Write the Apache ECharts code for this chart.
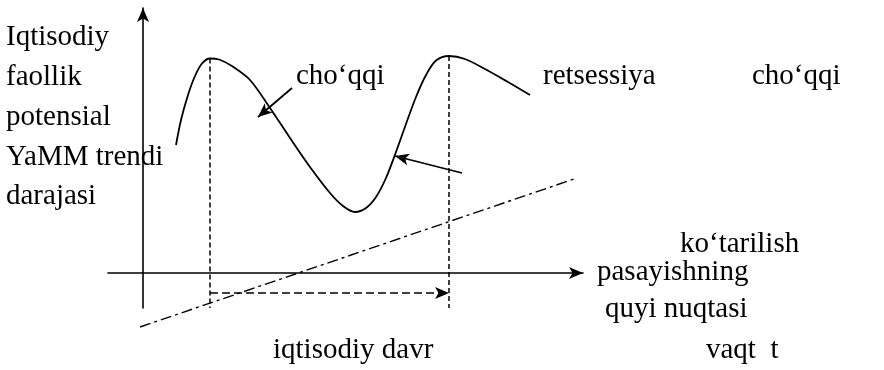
<!DOCTYPE html>
<html>
<head>
<meta charset="utf-8">
<script src="https://cdn.jsdelivr.net/npm/echarts@6/dist/echarts.min.js"></script>
<style>
  html, body { margin: 0; padding: 0; background: #fff; }
  #chart { width: 884px; height: 370px; }
</style>
</head>
<body>
<div id="chart"></div>
<script>
  // iqtisodiy faollik egri chizig'i (vaqt, daraja)
  var cycleT = [6.6, 7.6, 9, 10.4, 11.8, 13.4, 15.2, 17.6, 21.4, 25.4, 29.4, 33.4, 37.4, 40, 42.4, 44.6, 46.6, 48.6, 50.6, 52.6, 54.6, 56.6, 58.6, 61.2, 64.4, 68.4, 73, 77.4];
  var cycleY = [25.6, 30.6, 35.6, 39.4, 41.9, 42.9, 42.7, 41.5, 38.6, 33, 27, 21.2, 16, 13.4, 12.2, 13, 15.2, 19, 24.2, 29.8, 35.2, 39.6, 42.5, 43.4, 42.8, 40.8, 38.2, 35.6];
  // potensial YaMM trendi
  var trendT = [-0.6, 86.8];
  var trendY = [-10.8, 19];
  // cho'qqilar
  var peakT = [13.4, 61.2];
  var peakY = [42.9, 43.4];
  var dropY = -7;      // vertikal shtrix chiziqlar pastki uchi
  var periodY = -4;    // iqtisodiy davr strelkasi
  // izoh strelkalari [boshi, uchi]
  var arrowLines = [
    [[29.8, 37], [23, 31.2]],
    [[63.8, 20], [50.4, 23.4]]
  ];

  var labels = [
    { text: 'Iqtisodiy\nfaollik\npotensial\nYaMM trendi\ndarajasi', x: 6, y: 18, lh: 39.7 },
    { text: 'cho‘qqi', x: 296, y: 76 },
    { text: 'retsessiya', x: 543, y: 76 },
    { text: 'cho‘qqi', x: 752, y: 76 },
    { text: 'ko‘tarilish', x: 680, y: 244 },
    { text: 'pasayishning', x: 597, y: 272 },
    { text: 'quyi nuqtasi', x: 605, y: 309 },
    { text: 'iqtisodiy davr', x: 273, y: 350 },
    { text: 'vaqt  t', x: 706, y: 350 }
  ];

  var font = '"Liberation Serif", "DejaVu Serif", serif';
  var fontSize = 29;

  var chart = echarts.init(document.getElementById('chart'));

  function zip(a, b) {
    return a.map(function (v, i) { return [v, b[i]]; });
  }

  var dashedData = [];
  peakT.forEach(function (t, i) {
    dashedData.push([{ coord: [t, peakY[i]] }, { coord: [t, dropY] }]);
  });

  chart.setOption({
    animation: false,
    grid: { left: 108, right: 301, top: 8, bottom: 62 },
    xAxis: {
      type: 'value',
      min: -7,
      max: 88,
      axisLine: {
        onZero: true,
        symbol: ['none', 'arrow'],
        symbolSize: [9, 14],
        lineStyle: { color: '#000', width: 1.6 }
      },
      axisTick: { show: false },
      axisLabel: { show: false },
      splitLine: { show: false }
    },
    yAxis: {
      type: 'value',
      min: -7,
      max: 53,
      axisLine: {
        show: true,
        onZero: true,
        symbol: ['none', 'arrow'],
        symbolSize: [9, 14],
        lineStyle: { color: '#000', width: 1.6 }
      },
      axisTick: { show: false },
      axisLabel: { show: false },
      splitLine: { show: false }
    },
    series: [
      {
        type: 'line',
        data: zip(cycleT, cycleY),
        smooth: 0.3,
        symbol: 'none',
        lineStyle: { color: '#000', width: 1.8 },
        markLine: {
          silent: true,
          symbol: ['none', 'arrow'],
          symbolSize: [9, 14],
          label: { show: false },
          lineStyle: { color: '#000', width: 1.8, type: 'solid' },
          data: arrowLines.map(function (p) {
            return [{ coord: p[0] }, { coord: p[1] }];
          })
        }
      },
      {
        type: 'line',
        data: zip(trendT, trendY),
        clip: false,
        symbol: 'none',
        lineStyle: { color: '#000', width: 1.4, type: [11, 4, 3, 4] }
      },
      {
        type: 'line',
        data: [],
        markLine: {
          silent: true,
          symbol: 'none',
          label: { show: false },
          lineStyle: { color: '#000', width: 1.5, type: [5, 3] },
          data: dashedData
        }
      },
      {
        type: 'line',
        data: [],
        markLine: {
          silent: true,
          symbol: ['none', 'arrow'],
          symbolSize: [9, 14],
          label: { show: false },
          lineStyle: { color: '#000', width: 1.5, type: [8, 4] },
          data: [[{ coord: [peakT[0], periodY] }, { coord: [peakT[1], periodY] }]]
        }
      }
    ],
    graphic: labels.map(function (l) {
      return {
        type: 'text',
        left: l.x,
        top: l.lh ? l.y : l.y - fontSize / 2 - 2,
        style: {
          text: l.text,
          font: fontSize + 'px ' + font,
          fill: '#000',
          lineHeight: l.lh || fontSize + 4
        }
      };
    })
  });
</script>
</body>
</html>
